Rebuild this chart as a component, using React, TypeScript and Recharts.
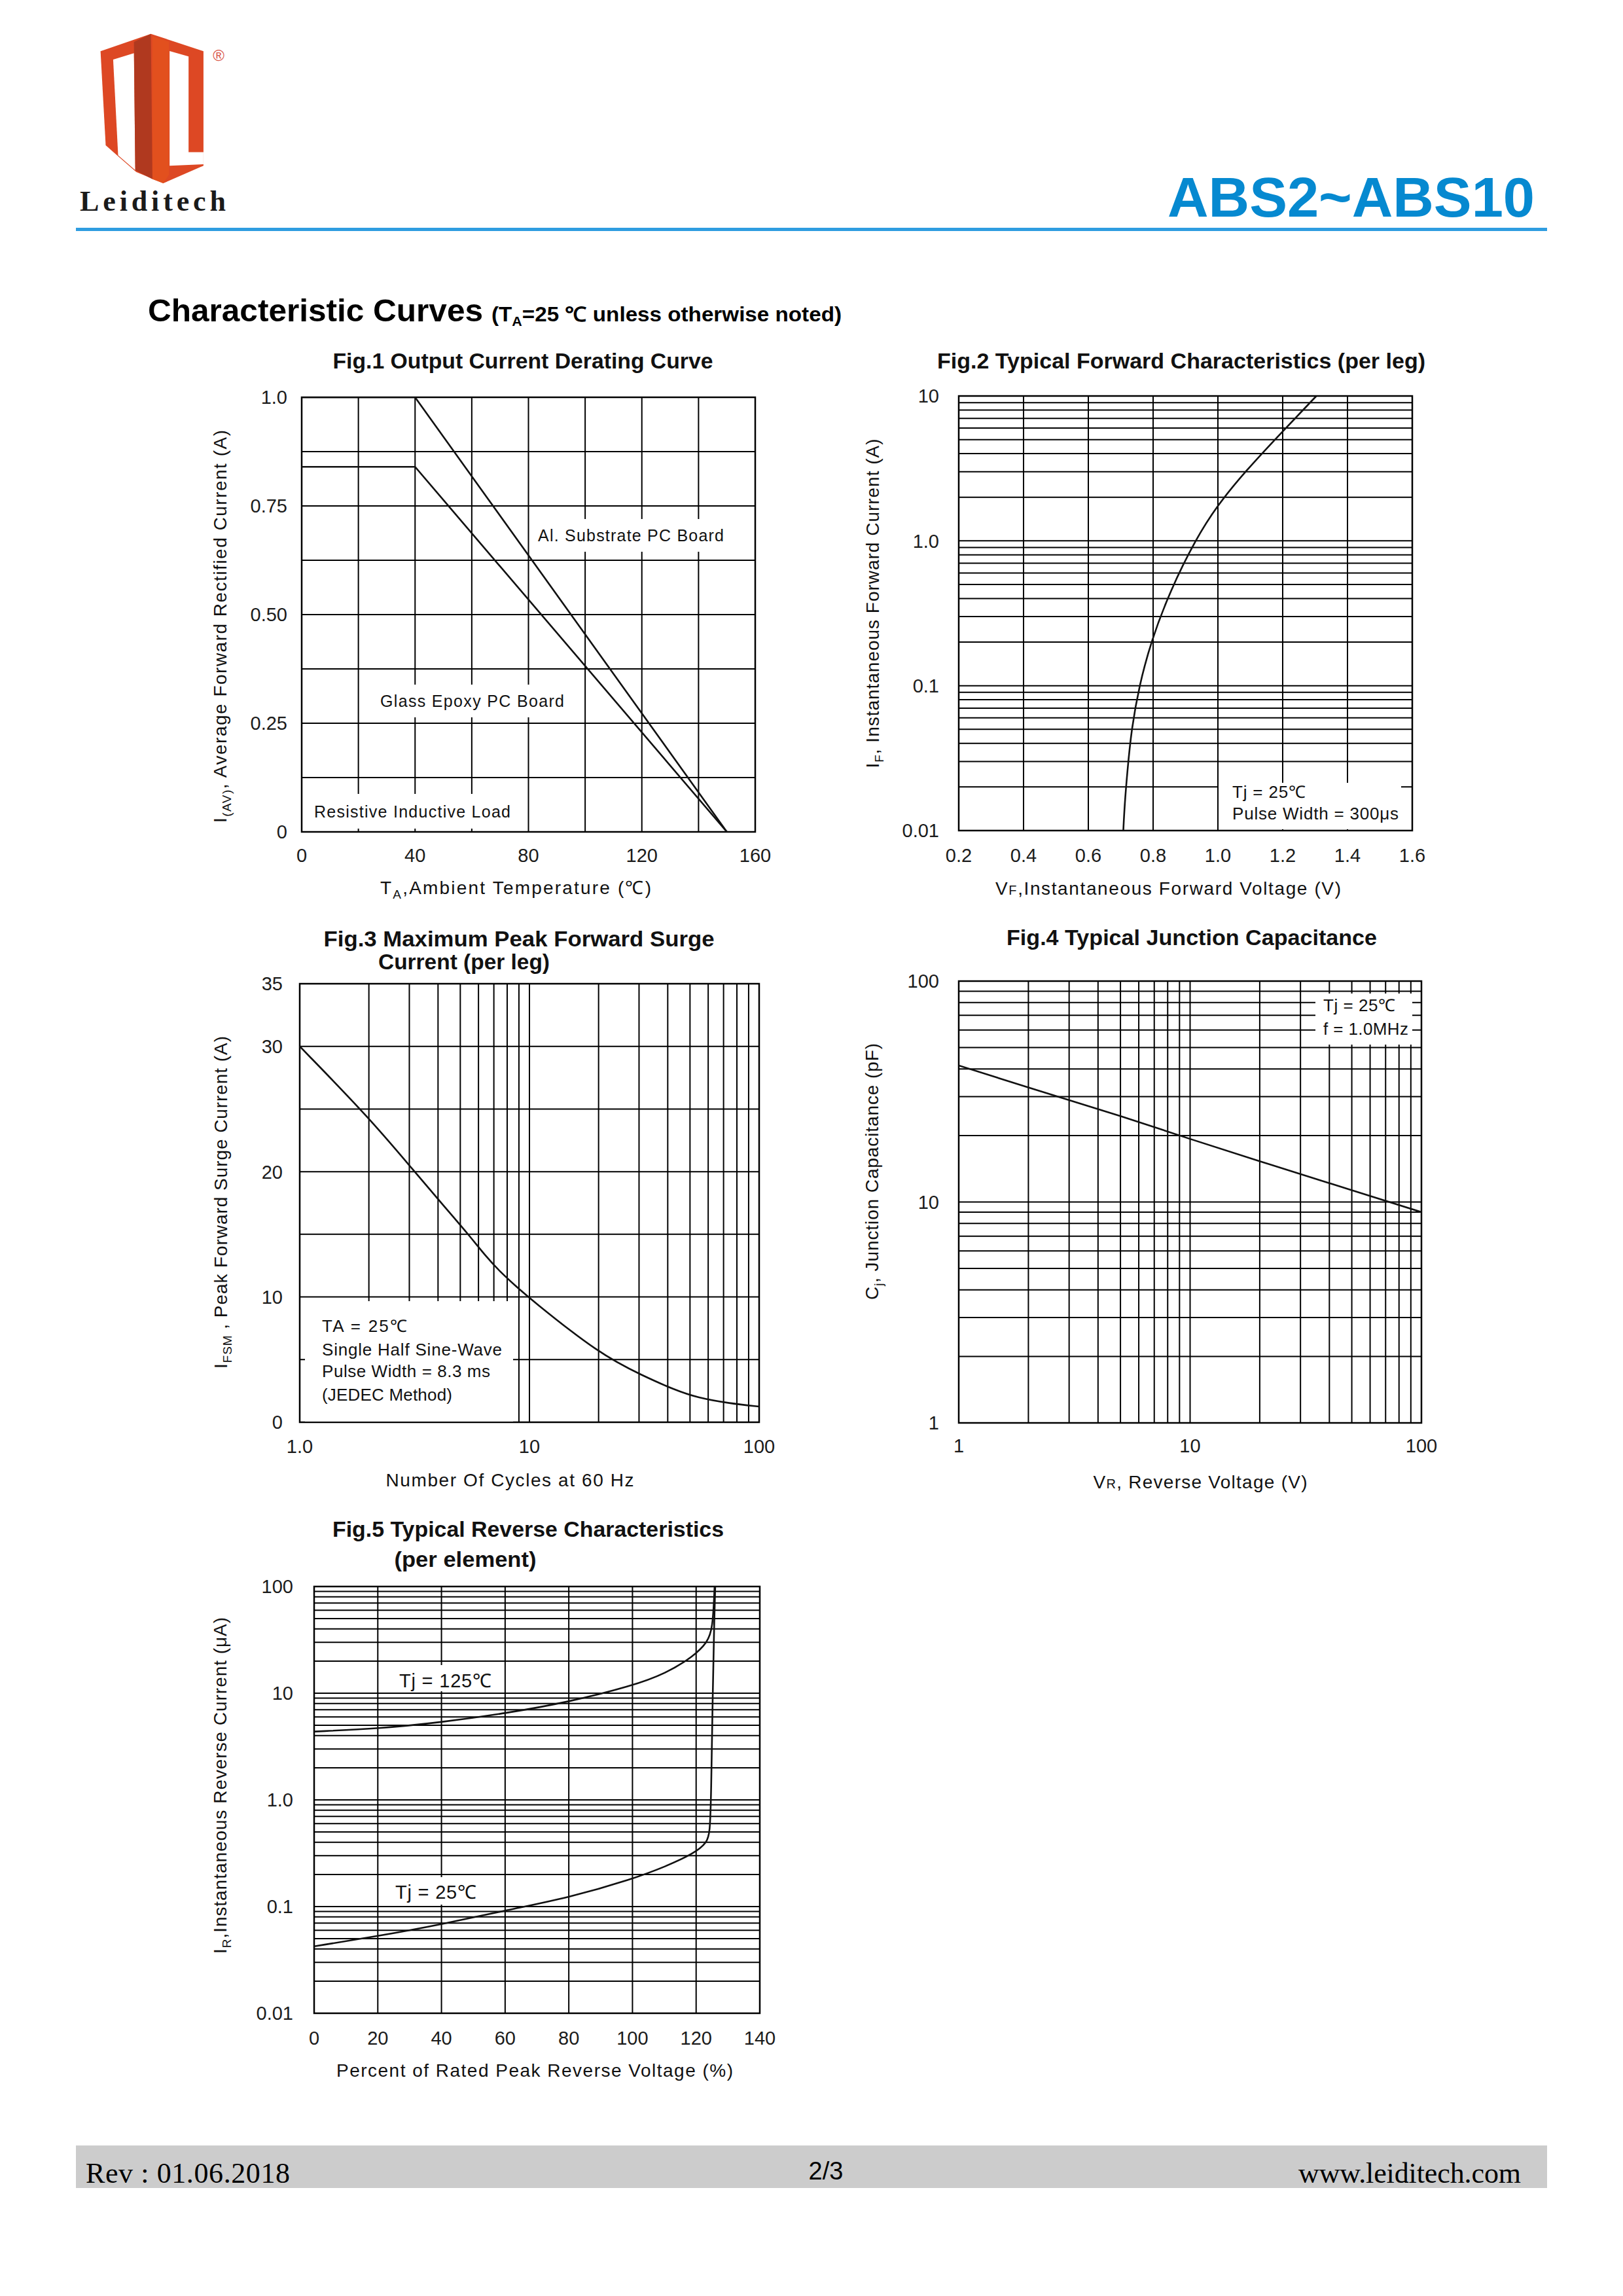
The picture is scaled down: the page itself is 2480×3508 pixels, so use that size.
import React from 'react';
import { LineChart, Line, XAxis, YAxis, CartesianGrid, ReferenceArea } from 'recharts';

// ---------------- DATA ----------------
// Fig.1 Output Current Derating Curve
const fig1TempAl = [0, 40, 150];
const fig1CurrentAl = [1.0, 1.0, 0];
const fig1TempGlass = [0, 40, 150];
const fig1CurrentGlass = [0.84, 0.84, 0];
const fig1XGrid = [0, 20, 40, 60, 80, 100, 120, 140, 160];
const fig1XLabels: [number, string][] = [[0, '0'], [40, '40'], [80, '80'], [120, '120'], [160, '160']];
const fig1YGrid = [0, 0.125, 0.25, 0.375, 0.5, 0.625, 0.75, 0.875, 1.0];
const fig1YLabels: [number, string][] = [[0, '0'], [0.25, '0.25'], [0.5, '0.50'], [0.75, '0.75'], [1.0, '1.0']];

// Fig.2 Typical Forward Characteristics
const fig2Voltage = [0.708, 0.712, 0.72, 0.733, 0.757, 0.794, 0.852, 0.933, 0.997, 1.084, 1.194, 1.304];
const fig2Current = [0.01, 0.015, 0.025, 0.05, 0.1, 0.203, 0.45, 1.04, 1.74, 3.01, 5.52, 10];
const fig2XGrid = [0.2, 0.4, 0.6, 0.8, 1.0, 1.2, 1.4, 1.6];
const fig2XLabels: [number, string][] = [[0.2, '0.2'], [0.4, '0.4'], [0.6, '0.6'], [0.8, '0.8'], [1.0, '1.0'], [1.2, '1.2'], [1.4, '1.4'], [1.6, '1.6']];
const fig2YLabels: [number, string][] = [[0.01, '0.01'], [0.1, '0.1'], [1, '1.0'], [10, '10']];

// Fig.3 Maximum Peak Forward Surge Current
const fig3Cycles = [1, 2.03, 3.16, 4.27, 5.42, 6.42, 7.46, 8.68, 10, 20.3, 31.3, 42.6, 54, 74.5, 100];
const fig3Surge = [30, 24.2, 20, 17.2, 15, 13.3, 12, 10.9, 9.9, 5.4, 3.7, 2.6, 1.95, 1.5, 1.25];
const fig3YGrid = [0, 5, 10, 15, 20, 25, 30, 35];
const fig3YLabels: [number, string][] = [[0, '0'], [10, '10'], [20, '20'], [30, '30'], [35, '35']];
const fig3XLabels: [number, string][] = [[1, '1.0'], [10, '10'], [100, '100']];

// Fig.4 Typical Junction Capacitance
const fig4Voltage = [1, 2, 5, 10, 20, 50, 100];
const fig4Capacitance = [41.5, 33, 24.5, 19.3, 15.3, 11.3, 9.0];
const fig4XLabels: [number, string][] = [[1, '1'], [10, '10'], [100, '100']];
const fig4YLabels: [number, string][] = [[1, '1'], [10, '10'], [100, '100']];

// Fig.5 Typical Reverse Characteristics
const fig5Pct125 = [0, 20.5, 39.7, 60.4, 79.8, 99.9, 110.5, 119.3, 123.5, 125.2, 125.8];
const fig5Cur125 = [4.37, 4.66, 5.32, 6.49, 8.24, 11.7, 15.3, 22.3, 30, 39.6, 100];
const fig5Pct25 = [0, 20, 40, 60, 80, 100, 110.5, 119.3, 123.5, 124.3, 124.7, 125.2, 125.7, 126.0];
const fig5Cur25 = [0.0424, 0.0528, 0.068, 0.092, 0.121, 0.181, 0.238, 0.314, 0.398, 0.5, 1.0, 10, 50, 100];
const fig5XGrid = [0, 20, 40, 60, 80, 100, 120, 140];
const fig5XLabels: [number, string][] = [[0, '0'], [20, '20'], [40, '40'], [60, '60'], [80, '80'], [100, '100'], [120, '120'], [140, '140']];
const fig5YLabels: [number, string][] = [[0.01, '0.01'], [0.1, '0.1'], [1, '1.0'], [10, '10'], [100, '100']];

// ---------------- HELPERS ----------------
const SANS = "'Liberation Sans', Arial, Helvetica, sans-serif";
const SERIF = "'Liberation Serif', 'Times New Roman', serif";

const pairs = (xs: number[], ys: number[]) => xs.map((x, i) => ({ x, y: ys[i] }));

const logTicks = (lo: number, hi: number) => {
  const out: number[] = [];
  const e0 = Math.round(Math.log10(lo));
  const e1 = Math.round(Math.log10(hi));
  for (let e = e0; e < e1; e++) {
    for (let d = 1; d < 10; d++) out.push(Number((d * Math.pow(10, e)).toPrecision(6)));
  }
  out.push(hi);
  return out;
};

const findLabel = (labels: [number, string][], v: number) => {
  for (const [k, t] of labels) {
    if (k === 0 ? Math.abs(v) < 1e-9 : Math.abs(v - k) / Math.abs(k) < 1e-6) return t;
  }
  return null;
};

const makeYTick = (labels: [number, string][]) => (props: any) => {
  const { x, y, payload } = props;
  const t = findLabel(labels, payload.value);
  if (!t) return <g />;
  return (
    <text x={x} y={y} dy="0.36em" textAnchor="end" fontSize={29} fontFamily={SANS} fill="#1b1b1b">
      {t}
    </text>
  );
};

const makeXTick = (labels: [number, string][]) => (props: any) => {
  const { x, y, payload } = props;
  const t = findLabel(labels, payload.value);
  if (!t) return <g />;
  return (
    <text x={x} y={y} dy="0.36em" textAnchor="middle" fontSize={29} fontFamily={SANS} fill="#1b1b1b">
      {t}
    </text>
  );
};

type AxisCfg = {
  scale: 'linear' | 'log';
  domain: [number, number];
  ticks: number[];
  labels: [number, string][];
  gap: number;
};

const ML = 130;
const MT = 20;
const MR = 80;
const MB = 70;

function Plot(props: {
  left: number; top: number; width: number; height: number;
  x: AxisCfg; y: AxisCfg; series: { x: number; y: number }[][]; curve: any;
}) {
  const { left, top, width, height, x, y, series, curve } = props;
  return (
    <div style={{ position: 'absolute', left: left - ML, top: top - MT }}>
      <LineChart width={width + ML + MR} height={height + MT + MB} margin={{ top: MT, right: MR, bottom: 0, left: 0 }}>
        <CartesianGrid stroke="#000" strokeWidth={2} />
        <XAxis
          type="number" dataKey="x" scale={x.scale} domain={x.domain} ticks={x.ticks} interval={0}
          allowDataOverflow axisLine={false} tickLine={false} tickSize={0} tickMargin={x.gap}
          height={MB} tick={makeXTick(x.labels)}
        />
        <YAxis
          type="number" scale={y.scale} domain={y.domain} ticks={y.ticks} interval={0}
          allowDataOverflow axisLine={false} tickLine={false} tickSize={0} tickMargin={y.gap}
          width={ML} tick={makeYTick(y.labels)}
        />
        <ReferenceArea x1={x.domain[0]} x2={x.domain[1]} y1={y.domain[0]} y2={y.domain[1]}
          fill="none" fillOpacity={0} stroke="#000" strokeWidth={2.5} ifOverflow="visible" />
        {series.map((s, i) => (
          <Line key={i} data={s} dataKey="y" type={curve} stroke="#111" strokeWidth={2.6}
            dot={false} activeDot={false} isAnimationActive={false} />
        ))}
      </LineChart>
    </div>
  );
}

// text helper for the overlay
function Txt(p: {
  x: number; y: number; size?: number; anchor?: 'start' | 'middle' | 'end'; bold?: boolean;
  len?: number; adjust?: 'spacing' | 'spacingAndGlyphs'; fill?: string; family?: string; rotate?: boolean;
  children: React.ReactNode;
}) {
  const { x, y, size = 26, anchor = 'start', bold = false, len, adjust = 'spacing', fill = '#111', family = SANS, rotate = false } = p;
  const common: any = {
    fontSize: size, fontFamily: family, fontWeight: bold ? 'bold' : 'normal', fill, textAnchor: anchor,
  };
  if (len) { common.textLength = len; common.lengthAdjust = adjust; }
  if (rotate) {
    return (
      <text transform={`translate(${x},${y}) rotate(-90)`} dy="0.35em" {...common}>{p.children}</text>
    );
  }
  return <text x={x} y={y} {...common}>{p.children}</text>;
}

const WhiteBox = (p: { x1: number; y1: number; x2: number; y2: number }) => (
  <rect x={p.x1} y={p.y1} width={p.x2 - p.x1} height={p.y2 - p.y1} fill="#fff" />
);

// ---------------- APP ----------------
export default function App() {
  const f2y = logTicks(0.01, 10);
  const f3x = logTicks(1, 100);
  const f4 = logTicks(1, 100);
  const f5y = logTicks(0.01, 100);

  return (
    <div style={{ position: 'absolute', left: 0, top: 0, width: 2480, height: 3508, background: '#fff', overflow: 'hidden' }}>
      {/* Fig.1 */}
      <Plot left={461} top={607} width={693} height={664} curve="linear"
        x={{ scale: 'linear', domain: [0, 160], ticks: fig1XGrid, labels: fig1XLabels, gap: 36 }}
        y={{ scale: 'linear', domain: [0, 1], ticks: fig1YGrid, labels: fig1YLabels, gap: 22 }}
        series={[pairs(fig1TempAl, fig1CurrentAl), pairs(fig1TempGlass, fig1CurrentGlass)]} />
      {/* Fig.2 */}
      <Plot left={1465} top={605} width={693} height={664} curve="basis"
        x={{ scale: 'linear', domain: [0.2, 1.6], ticks: fig2XGrid, labels: fig2XLabels, gap: 38 }}
        y={{ scale: 'log', domain: [0.01, 10], ticks: f2y, labels: fig2YLabels, gap: 30 }}
        series={[pairs(fig2Voltage, fig2Current)]} />
      {/* Fig.3 */}
      <Plot left={458} top={1503} width={702} height={670} curve="basis"
        x={{ scale: 'log', domain: [1, 100], ticks: f3x, labels: fig3XLabels, gap: 37 }}
        y={{ scale: 'linear', domain: [0, 35], ticks: fig3YGrid, labels: fig3YLabels, gap: 26 }}
        series={[pairs(fig3Cycles, fig3Surge)]} />
      {/* Fig.4 */}
      <Plot left={1465} top={1499} width={707} height={675} curve="linear"
        x={{ scale: 'log', domain: [1, 100], ticks: f4, labels: fig4XLabels, gap: 35 }}
        y={{ scale: 'log', domain: [1, 100], ticks: f4, labels: fig4YLabels, gap: 30 }}
        series={[pairs(fig4Voltage, fig4Capacitance)]} />
      {/* Fig.5 */}
      <Plot left={480} top={2424} width={681} height={652} curve="basis"
        x={{ scale: 'linear', domain: [0, 140], ticks: fig5XGrid, labels: fig5XLabels, gap: 38 }}
        y={{ scale: 'log', domain: [0.01, 100], ticks: f5y, labels: fig5YLabels, gap: 32 }}
        series={[pairs(fig5Pct125, fig5Cur125), pairs(fig5Pct25, fig5Cur25)]} />

      <svg width={2480} height={3508} style={{ position: 'absolute', left: 0, top: 0, pointerEvents: 'none' }}>
        {/* Logo */}
        <g transform="translate(146,42) scale(0.345)">
          <polygon points="22,105 245,28 478,105 478,612 300,690 180,640 95,566 45,522" fill="#dd4824" />
          <polygon points="78,142 170,114 176,632 100,566" fill="#fff" />
          <polygon points="170,64 245,28 252,672 176,632" fill="#b0391f" />
          <polygon points="252,40 325,62 325,652 300,690 252,672" fill="#e2501e" />
          <polygon points="328,104 412,128 412,552 478,552 478,606 328,612" fill="#fff" />
        </g>
        <text x={334} y={93} fontSize={24} fontFamily={SANS} fill="#d9574a" textAnchor="middle">®</text>
        <Txt x={122} y={322} size={44} bold family={SERIF} len={223} fill="#1a1a1a">Leiditech</Txt>

        {/* Header */}
        <Txt x={1784} y={331} size={86} bold len={561} adjust="spacingAndGlyphs" fill="#0689d0">ABS2~ABS10</Txt>
        <rect x={116} y={348} width={2248} height={5} fill="#2f9de0" />

        {/* Section heading */}
        <Txt x={226} y={491} size={49} bold len={512} adjust="spacingAndGlyphs" fill="#000">Characteristic Curves</Txt>
        <text x={751} y={491} fontSize={31} fontFamily={SANS} fontWeight="bold" fill="#000" textLength={535} lengthAdjust="spacingAndGlyphs">
          <tspan>(T</tspan><tspan dy={7} fontSize={20}>A</tspan><tspan dy={-7}>=25 ℃ unless otherwise noted)</tspan>
        </text>

        {/* Fig.1 annotations */}
        <Txt x={799} y={563} size={33} bold anchor="middle" len={581} adjust="spacingAndGlyphs">Fig.1 Output Current Derating Curve</Txt>
        <WhiteBox x1={812} y1={793} x2={1118} y2={843} />
        <WhiteBox x1={569} y1={1046} x2={872} y2={1096} />
        <WhiteBox x1={470} y1={1213} x2={792} y2={1266} />
        <Txt x={822} y={827} size={25} len={284}>Al. Substrate PC Board</Txt>
        <Txt x={581} y={1080} size={25} len={281}>Glass Epoxy PC Board</Txt>
        <Txt x={480} y={1249} size={25} len={300}>Resistive Inductive Load</Txt>
        <Txt x={336} y={957} size={28} anchor="middle" rotate len={600}>
          <tspan>I</tspan><tspan dy={7} fontSize={19}>(AV)</tspan><tspan dy={-7}>, Average Forward Rectified Current (A)</tspan>
        </Txt>
        <Txt x={788} y={1366} size={28} anchor="middle" len={414}>
          <tspan>T</tspan><tspan dy={7} fontSize={19}>A</tspan><tspan dy={-7}>,Ambient Temperature (℃)</tspan>
        </Txt>

        {/* Fig.2 annotations */}
        <Txt x={1805} y={563} size={33} bold anchor="middle" len={746} adjust="spacingAndGlyphs">Fig.2 Typical Forward Characteristics (per leg)</Txt>
        <WhiteBox x1={1862} y1={1196} x2={2141} y2={1267} />
        <Txt x={1883} y={1219} size={26} len={112}>Tj = 25℃</Txt>
        <Txt x={1883} y={1252} size={26} len={254}>Pulse Width = 300μs</Txt>
        <Txt x={1333} y={922} size={28} anchor="middle" rotate len={503}>
          <tspan>I</tspan><tspan dy={7} fontSize={19}>F</tspan><tspan dy={-7}>, Instantaneous Forward Current (A)</tspan>
        </Txt>
        <Txt x={1785} y={1367} size={28} anchor="middle" len={528}>
          <tspan>V</tspan><tspan fontSize={20}>F</tspan><tspan>,Instantaneous Forward Voltage (V)</tspan>
        </Txt>

        {/* Fig.3 annotations */}
        <Txt x={793} y={1446} size={33} bold anchor="middle" len={597} adjust="spacingAndGlyphs">Fig.3 Maximum Peak Forward Surge</Txt>
        <Txt x={709} y={1481} size={33} bold anchor="middle" len={262} adjust="spacingAndGlyphs">Current (per leg)</Txt>
        <WhiteBox x1={466} y1={1988} x2={784} y2={2172} />
        <Txt x={492} y={2035} size={26} len={130}>TA = 25℃</Txt>
        <Txt x={492} y={2071} size={26} len={275}>Single Half Sine-Wave</Txt>
        <Txt x={492} y={2104} size={26} len={257}>Pulse Width = 8.3 ms</Txt>
        <Txt x={492} y={2140} size={26} len={199}>(JEDEC Method)</Txt>
        <Txt x={337} y={1837} size={28} anchor="middle" rotate len={508}>
          <tspan>I</tspan><tspan dy={7} fontSize={19}>FSM</tspan><tspan dy={-7}> , Peak Forward Surge Current (A)</tspan>
        </Txt>
        <Txt x={779} y={2271} size={28} anchor="middle" len={379}>Number Of Cycles at 60 Hz</Txt>

        {/* Fig.4 annotations */}
        <Txt x={1821} y={1444} size={33} bold anchor="middle" len={566} adjust="spacingAndGlyphs">Fig.4 Typical Junction Capacitance</Txt>
        <WhiteBox x1={2010} y1={1518} x2={2158} y2={1596} />
        <Txt x={2022} y={1545} size={26} len={110}>Tj = 25℃</Txt>
        <Txt x={2022} y={1581} size={26} len={130}>f = 1.0MHz</Txt>
        <Txt x={1332} y={1790} size={28} anchor="middle" rotate len={392}>
          <tspan>C</tspan><tspan dy={7} fontSize={19}>j</tspan><tspan dy={-7}>, Junction Capacitance (pF)</tspan>
        </Txt>
        <Txt x={1834} y={2274} size={28} anchor="middle" len={327}>
          <tspan>V</tspan><tspan fontSize={20}>R</tspan><tspan>, Reverse Voltage (V)</tspan>
        </Txt>

        {/* Fig.5 annotations */}
        <Txt x={807} y={2348} size={33} bold anchor="middle" len={598} adjust="spacingAndGlyphs">Fig.5 Typical Reverse Characteristics</Txt>
        <Txt x={711} y={2394} size={33} bold anchor="middle" len={217} adjust="spacingAndGlyphs">(per element)</Txt>
        <WhiteBox x1={598} y1={2544} x2={762} y2={2584} />
        <WhiteBox x1={594} y1={2868} x2={740} y2={2910} />
        <Txt x={610} y={2578} size={29} len={141}>Tj = 125℃</Txt>
        <Txt x={604} y={2901} size={29} len={124}>Tj = 25℃</Txt>
        <Txt x={336} y={2728} size={28} anchor="middle" rotate len={514}>
          <tspan>I</tspan><tspan dy={7} fontSize={19}>R</tspan><tspan dy={-7}>,Instantaneous Reverse Current (μA)</tspan>
        </Txt>
        <Txt x={817} y={3173} size={28} anchor="middle" len={606}>Percent of Rated Peak Reverse Voltage (%)</Txt>

        {/* Footer */}
        <rect x={116} y={3278} width={2248} height={65} fill="#cccccc" />
        <Txt x={131} y={3335} size={44} family={SERIF} len={312} fill="#000">Rev : 01.06.2018</Txt>
        <Txt x={1262} y={3330} size={38} anchor="middle" fill="#000">2/3</Txt>
        <Txt x={2324} y={3335} size={44} family={SERIF} anchor="end" len={340} fill="#000">www.leiditech.com</Txt>
      </svg>
    </div>
  );
}
